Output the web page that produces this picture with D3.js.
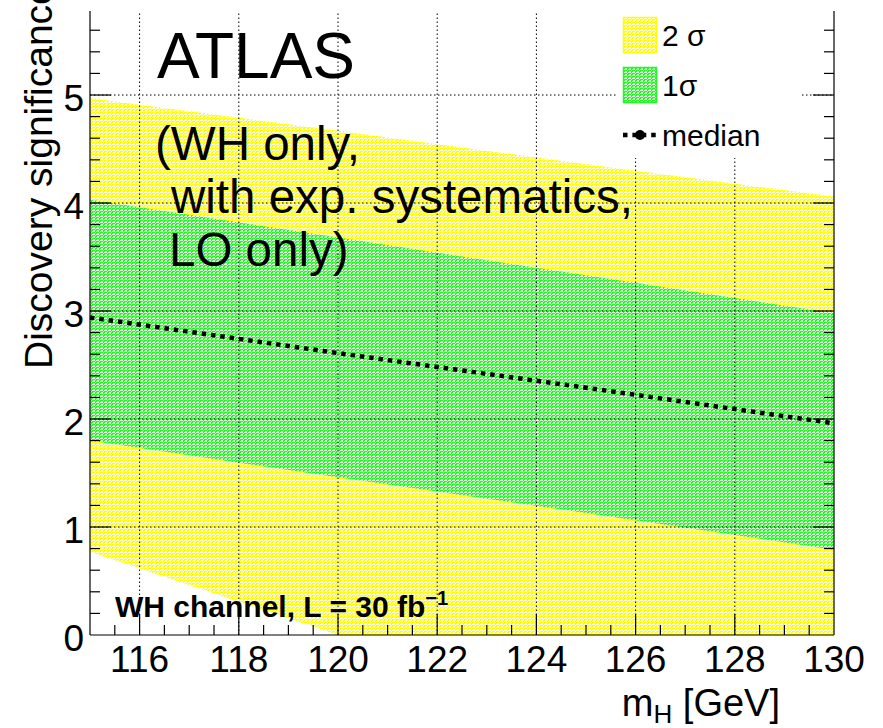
<!DOCTYPE html>
<html><head><meta charset="utf-8">
<script src="https://cdn.jsdelivr.net/npm/d3@7"></script>
<style>
body{margin:0;background:#fff;}
svg{display:block;font-family:"Liberation Sans",Arial,Helvetica,sans-serif;}
</style></head>
<body><svg id="c" width="883" height="728"></svg>
<script>
// ---- data ----
const masses = [115, 120, 125, 130];
const sigma2Up = [4.97, 4.67, 4.36, 4.06];
const sigma2Lo = [0.77, 0.00, 0.00, 0.00];
const sigma1Up = [4.03, 3.68, 3.33, 2.98];
const sigma1Lo = [1.80, 1.46, 1.13, 0.79];
const median   = [2.94, 2.61, 2.29, 1.96];
const xTicks = [116, 118, 120, 122, 124, 126, 128, 130];
const yTicks = [0, 1, 2, 3, 4, 5];
const legendLabels = ["2 σ", "1σ", "median"];

const svg = d3.select("#c");
const L = 90, R = 834, T = 11, B = 635;
const x = d3.scaleLinear().domain([115, 130]).range([L, R]);
const y = d3.scaleLinear().domain([0, 5.778]).range([B, T]).clamp(true);

// patterns
const defs = svg.append("defs");
function pat(id, col) {
  const p = defs.append("pattern").attr("id", id).attr("patternUnits", "userSpaceOnUse")
    .attr("width", 4).attr("height", 3);
  p.append("rect").attr("width", 4).attr("height", 3).attr("fill", col);
  p.append("rect").attr("x", 0).attr("y", 0).attr("width", 3).attr("height", 1).attr("fill", "#fff").attr("fill-opacity", 0.9);
  p.append("rect").attr("x", 1).attr("y", 2).attr("width", 2).attr("height", 1).attr("fill", "#fff").attr("fill-opacity", 0.75);
  p.append("rect").attr("x", 3).attr("y", 1).attr("width", 1).attr("height", 1).attr("fill", "#fff").attr("fill-opacity", 0.6);
}
pat("pY", "#ffff00");
pat("pG", "#22f822");

const pts = masses.map((m, i) => ({m, u2: sigma2Up[i], l2: sigma2Lo[i], u1: sigma1Up[i], l1: sigma1Lo[i], med: median[i]}));

svg.append("path").datum(pts)
  .attr("d", d3.area().x(d => x(d.m)).y0(d => y(d.l2)).y1(d => y(d.u2)))
  .attr("fill", "url(#pY)");
svg.append("path").datum(pts)
  .attr("d", d3.area().x(d => x(d.m)).y0(d => y(d.l1)).y1(d => y(d.u1)))
  .attr("fill", "url(#pG)");

// texts (under grid)
const t = svg.append("g").attr("fill", "#000");
t.append("text").attr("x", 157).attr("y", 78).attr("font-size", 64).text("ATLAS");
t.append("text").attr("x", 155).attr("y", 160).attr("font-size", 47.5).text("(WH only,");
t.append("text").attr("x", 171).attr("y", 213).attr("font-size", 47.5).text("with exp. systematics,");
t.append("text").attr("x", 169).attr("y", 266).attr("font-size", 47.5).text("LO only)");
const wh = t.append("text").attr("x", 115).attr("y", 617).attr("font-size", 30).attr("font-weight", "bold");
wh.append("tspan").text("WH channel, L = 30 fb");
wh.append("tspan").attr("dy", -12).attr("font-size", 20).text("−1");

// grid
const grid = svg.append("g").attr("stroke", "#000").attr("stroke-width", 1).attr("stroke-dasharray", "1.5,2.5");
grid.selectAll("line.gx").data(xTicks.filter(v => v < 130)).join("line")
  .attr("x1", d => x(d)).attr("x2", d => x(d)).attr("y1", B).attr("y2", T);
grid.selectAll("line.gy").data(yTicks.filter(v => v > 0)).join("line")
  .attr("y1", d => y(d)).attr("y2", d => y(d)).attr("x1", L).attr("x2", R);

// median
svg.append("path").datum(pts)
  .attr("d", d3.line().x(d => x(d.m)).y(d => y(d.med)))
  .attr("fill", "none").attr("stroke", "#000").attr("stroke-width", 4.5).attr("stroke-dasharray", "4.5,4.9");

// legend
const lg = svg.append("g");
lg.append("rect").attr("x", 617).attr("y", 12).attr("width", 185).attr("height", 146).attr("fill", "#fff");
lg.append("rect").attr("x", 623.5).attr("y", 17.5).attr("width", 33).attr("height", 35).attr("fill", "url(#pY)").attr("stroke", "#ffff00").attr("stroke-width", 1.5);
lg.append("rect").attr("x", 623.5).attr("y", 67.5).attr("width", 33).attr("height", 35).attr("fill", "url(#pG)").attr("stroke", "#22f822").attr("stroke-width", 1.5);
lg.append("line").attr("x1", 623).attr("x2", 657).attr("y1", 135).attr("y2", 135)
  .attr("stroke", "#000").attr("stroke-width", 4.5).attr("stroke-dasharray", "4.5,4.9");
lg.append("circle").attr("cx", 640).attr("cy", 135).attr("r", 5).attr("fill", "#000");
lg.selectAll("text").data(legendLabels).join("text")
  .attr("x", 662).attr("y", (d, i) => [46, 96, 146][i]).attr("font-size", 30).text(d => d);

// axes
const ax = svg.append("g").attr("stroke", "#000").attr("stroke-width", 1.2);
ax.append("line").attr("x1", L).attr("x2", R).attr("y1", B).attr("y2", B);
ax.append("line").attr("x1", L).attr("x2", L).attr("y1", B).attr("y2", T);
ax.append("line").attr("x1", R).attr("x2", R).attr("y1", B).attr("y2", T);
const xMinor = d3.range(115.5, 130, 0.5);
ax.selectAll("line.xm").data(xMinor).join("line")
  .attr("x1", d => x(d)).attr("x2", d => x(d)).attr("y1", B)
  .attr("y2", d => B - (Math.abs(d % 2) < 1e-9 ? 21 : 10));
const yMinor = d3.range(0.2, 5.78, 0.2);
ax.selectAll("line.ym").data(yMinor).join("line")
  .attr("y1", d => y(d)).attr("y2", d => y(d)).attr("x1", L)
  .attr("x2", d => L + (Math.abs(d - Math.round(d)) < 1e-6 ? 21 : 10));
ax.selectAll("line.yr").data(yMinor).join("line")
  .attr("y1", d => y(d)).attr("y2", d => y(d)).attr("x1", R)
  .attr("x2", d => R - (Math.abs(d - Math.round(d)) < 1e-6 ? 21 : 10));

// tick labels
svg.append("g").selectAll("text").data(xTicks).join("text")
  .attr("x", d => x(d)).attr("y", 672).attr("text-anchor", "middle").attr("font-size", 37).text(d => d);
svg.append("g").selectAll("text").data(yTicks).join("text")
  .attr("x", 84).attr("y", d => y(d) + 16).attr("text-anchor", "end").attr("font-size", 37).text(d => d);

// axis titles
svg.append("text").attr("transform", "translate(52,369) rotate(-90)").attr("font-size", 39)
  .text("Discovery significance");
const xt = svg.append("text").attr("x", 780).attr("y", 716).attr("text-anchor", "end").attr("font-size", 38);
xt.append("tspan").text("m");
xt.append("tspan").attr("dy", 7).attr("font-size", 26).text("H");
xt.append("tspan").attr("dy", -7).text(" [GeV]");
</script></body></html>
